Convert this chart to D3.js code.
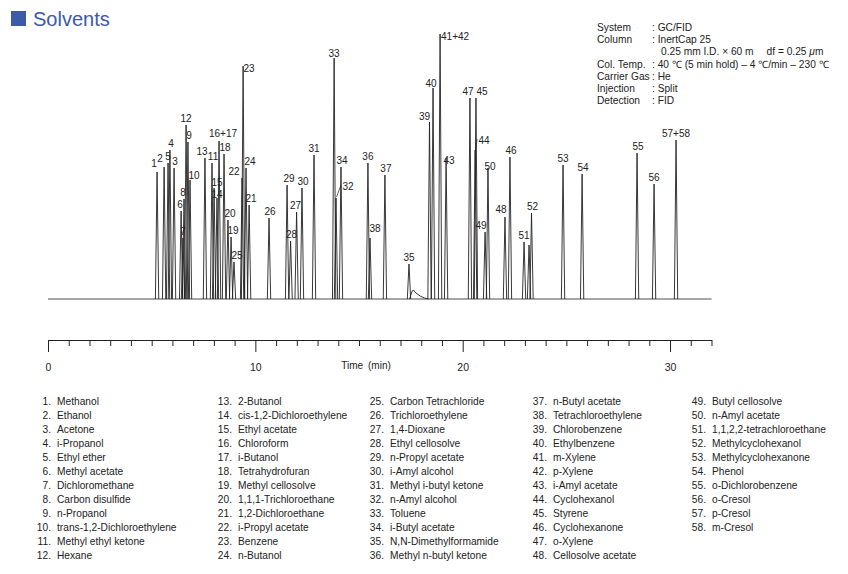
<!DOCTYPE html>
<html>
<head>
<meta charset="utf-8">
<script src="https://cdn.jsdelivr.net/npm/d3@7"></script>
<style>
  body { margin: 0; background: #fff; }
  svg { display: block; font-family: "Liberation Sans", Arial, sans-serif; }
</style>
</head>
<body>
<svg id="chart" width="848" height="574"></svg>
<script>
// peaks: retention time (min) and height (arbitrary units)
const peakLabels = ["1", "2", "5", "4", "3", "6", "7", "8", "12", "9", "10", "13", "11", "15", "14",
  "16+17", "18", "20", "19", "25", "22", "23", "24", "21", "26", "29", "28", "27", "30", "31", "33",
  "32", "34", "36", "38", "37", "35", "39", "40", "41+42", "43", "47", "44", "45", "49", "50", "48",
  "46", "51", "", "52", "53", "54", "55", "56", "57+58"];
const peakTimes = [5.26, 5.60, 5.79, 5.88, 6.08, 6.42, 6.51, 6.56, 6.66, 6.75, 6.85, 7.57, 7.91, 8.01,
  8.15, 8.25, 8.49, 8.68, 8.83, 8.97, 9.36, 9.41, 9.55, 9.70, 10.66, 11.53, 11.70, 11.99, 12.25,
  12.83, 13.80, 13.89, 14.13, 15.43, 15.53, 16.25, 17.41, 18.40, 18.57, 18.91, 19.20, 20.35, 20.60,
  20.64, 21.08, 21.22, 22.04, 22.28, 22.96, 23.20, 23.32, 24.84, 25.76, 28.41, 29.23, 30.29];
const peakHeights = [127, 132, 136, 149, 131, 88, 61, 100, 174, 157, 119, 141, 136, 111, 101, 158,
  145, 79, 62, 37, 121, 233, 131, 94, 81, 114, 58, 87, 111, 144, 241, 101, 132, 136, 61, 124, 35,
  177, 211, 265, 141, 201, 149, 201, 67, 131, 82, 142, 57, 54, 86, 134, 125, 146, 115, 159];

// tailing hump after peak 35 (N,N-Dimethylformamide)
const tailTimes = [17.44, 17.50, 17.56, 17.62, 17.75, 17.95, 18.15, 18.35];
const tailHeights = [0, 4, 8, 9, 6, 3, 1, 0];

const axisLabels = [0, 10, 20, 30];

const compounds = ["Methanol", "Ethanol", "Acetone", "i-Propanol", "Ethyl ether", "Methyl acetate",
  "Dichloromethane", "Carbon disulfide", "n-Propanol", "trans-1,2-Dichloroethylene",
  "Methyl ethyl ketone", "Hexane", "2-Butanol", "cis-1,2-Dichloroethylene", "Ethyl acetate",
  "Chloroform", "i-Butanol", "Tetrahydrofuran", "Methyl cellosolve", "1,1,1-Trichloroethane",
  "1,2-Dichloroethane", "i-Propyl acetate", "Benzene", "n-Butanol", "Carbon Tetrachloride",
  "Trichloroethylene", "1,4-Dioxane", "Ethyl cellosolve", "n-Propyl acetate", "i-Amyl alcohol",
  "Methyl i-butyl ketone", "n-Amyl alcohol", "Toluene", "i-Butyl acetate", "N,N-Dimethylformamide",
  "Methyl n-butyl ketone", "n-Butyl acetate", "Tetrachloroethylene", "Chlorobenzene",
  "Ethylbenzene", "m-Xylene", "p-Xylene", "i-Amyl acetate", "Cyclohexanol", "Styrene",
  "Cyclohexanone", "o-Xylene", "Cellosolve acetate", "Butyl cellosolve", "n-Amyl acetate",
  "1,1,2,2-tetrachloroethane", "Methylcyclohexanol", "Methylcyclohexanone", "Phenol",
  "o-Dichlorobenzene", "o-Cresol", "p-Cresol", "m-Cresol"];

const conditionKeys = ["System", "Column", "", "Col. Temp.", "Carrier Gas", "Injection", "Detection"];
const conditionValues = [": GC/FID", ": InertCap 25", "0.25 mm I.D. \u00d7 60 m\u2003 df = 0.25 ",
  ": 40 \u2103 (5 min hold) \u2013 4 \u2103/min \u2013 230 \u2103", ": He", ": Split", ": FID"];

// ---- layout ----
const blue = "#3b5aa8";
const ink = "#222";
const halfWidth = 0.08; // half base width of a peak, minutes
const labelNudge = {
  "1": [-3, -2], "2": [-4, -2], "4": [1, 0], "3": [1, 0], "6": [-1, 0], "8": [-1, 0], "9": [1, 0],
  "10": [4, 2], "13": [-3, 0], "11": [1, 0], "15": [3, 1], "14": [0, 3], "16+17": [4, -1], "18": [1, 0],
  "20": [2, 0], "19": [2, 0], "25": [3, 0], "22": [-8, 0], "23": [6, 9], "24": [4, 0], "21": [2, 0],
  "26": [1, 0], "29": [2, 0], "28": [1, 0], "27": [-1, 0], "30": [1, 0], "33": [0, 2],
  "32": [12, -5], "34": [1, 0], "38": [5, -3], "37": [1, 0], "39": [-5, 1], "40": [-2, 2],
  "41+42": [15, 9], "43": [3, 9], "47": [-2, 0], "45": [6, 0], "44": [9, -3], "49": [-4, 0],
  "50": [2, 5], "48": [-4, -1], "46": [1, 0], "52": [1, 0], "54": [1, 0], "55": [1, 0]
};
const leaders = ["32", "44"];

const svg = d3.select("#chart");

const x = d3.scaleLinear().domain([0, 32]).range([48, 711.5]);
const y = d3.scaleLinear().domain([0, 270]).range([299, 29]);

const line = d3.line().x((d) => x(d[0])).y((d) => y(d[1]));

// title
svg.append("rect").attr("x", 11).attr("y", 11).attr("width", 15).attr("height", 15).attr("fill", blue);
svg.append("text").attr("x", 33).attr("y", 26).attr("fill", blue)
  .style("font-size", "20px").text("Solvents");

// chromatogram
const chart = svg.append("g").attr("class", "main-chart");
chart.append("path").attr("d", line([[0, 0], [32, 0]]))
  .attr("fill", "none").attr("stroke", ink).attr("stroke-width", 0.8);

const peaks = peakTimes.map((t, i) => ({ label: peakLabels[i], t, h: peakHeights[i] }));

chart.selectAll("path.peak")
  .data(peaks)
  .join("path")
  .attr("class", "peak")
  .attr("d", (d) => line([[d.t - halfWidth, 0], [d.t, d.h], [d.t + halfWidth, 0]]))
  .attr("fill", "none")
  .attr("stroke", ink)
  .attr("stroke-width", 0.9)
  .attr("stroke-linejoin", "round");

chart.append("path")
  .attr("d", line(tailTimes.map((t, i) => [t, tailHeights[i]])))
  .attr("fill", "none").attr("stroke", ink).attr("stroke-width", 0.9);

const labelled = peaks.filter((d) => d.label !== "");
const nudge = (d) => labelNudge[d.label] || [0, 0];

chart.selectAll("text.peak-label")
  .data(labelled)
  .join("text")
  .attr("class", "peak-label")
  .attr("x", (d) => x(d.t) + nudge(d)[0])
  .attr("y", (d) => y(d.h) - 3 + nudge(d)[1])
  .attr("text-anchor", "middle")
  .attr("fill", ink)
  .style("font-size", "10px")
  .text((d) => d.label);

chart.selectAll("line.leader")
  .data(labelled.filter((d) => leaders.includes(d.label)))
  .join("line")
  .attr("class", "leader")
  .attr("x1", (d) => x(d.t) + 0.5)
  .attr("y1", (d) => y(d.h) - 1)
  .attr("x2", (d) => x(d.t) + nudge(d)[0] - 7)
  .attr("y2", (d) => y(d.h) + nudge(d)[1] - 8)
  .attr("stroke", ink)
  .attr("stroke-width", 0.7);

// time axis
const xAxis = d3.axisBottom(x)
  .tickValues(d3.range(0, 33))
  .tickSize(12)
  .tickSizeOuter(0)
  .tickPadding(12)
  .tickFormat((d) => (axisLabels.includes(d) ? d : ""));

const axisGroup = svg.append("g").attr("class", "x-axis")
  .attr("transform", "translate(0,340)")
  .call(xAxis);
axisGroup.select(".domain").attr("stroke", ink).attr("stroke-width", 1);
axisGroup.selectAll(".tick line")
  .attr("stroke", ink)
  .attr("y2", (d) => (axisLabels.includes(d) ? 12 : 6));
axisGroup.selectAll(".tick text")
  .attr("fill", ink)
  .style("font-family", "'Liberation Sans', Arial, sans-serif")
  .style("font-size", "10.5px");

svg.append("text").attr("x", 366).attr("y", 369).attr("text-anchor", "middle")
  .attr("fill", ink)
  .style("font-size", "10px")
  .text("Time\u2002(min)");

// analysis conditions
const cond = svg.append("g").attr("class", "conditions").style("font-size", "10.2px").attr("fill", ink);
conditionKeys.forEach((k, i) => {
  const yy = 31 + i * 12.2;
  cond.append("text").attr("x", 597).attr("y", yy).text(k);
  const v = cond.append("text").attr("x", k === "" ? 661 : 652).attr("y", yy).text(conditionValues[i]);
  if (k === "") v.append("tspan").style("font-style", "italic").text("\u03bc").append("tspan").style("font-style", "normal").text("m");
});

// compound list
const colX = [57, 238, 390, 553, 712];
const legend = svg.append("g").attr("class", "legend").style("font-size", "10.2px").attr("fill", ink);
legend.selectAll("g.entry")
  .data(compounds)
  .join("g")
  .attr("class", "entry")
  .attr("transform", (d, i) => `translate(${colX[Math.floor(i / 12)]},${405 + (i % 12) * 14})`)
  .each(function (d, i) {
    const g = d3.select(this);
    g.append("text").attr("x", -6).attr("text-anchor", "end").text(`${i + 1}.`);
    g.append("text").attr("x", 0).text(d);
  });
</script>
</body>
</html>
